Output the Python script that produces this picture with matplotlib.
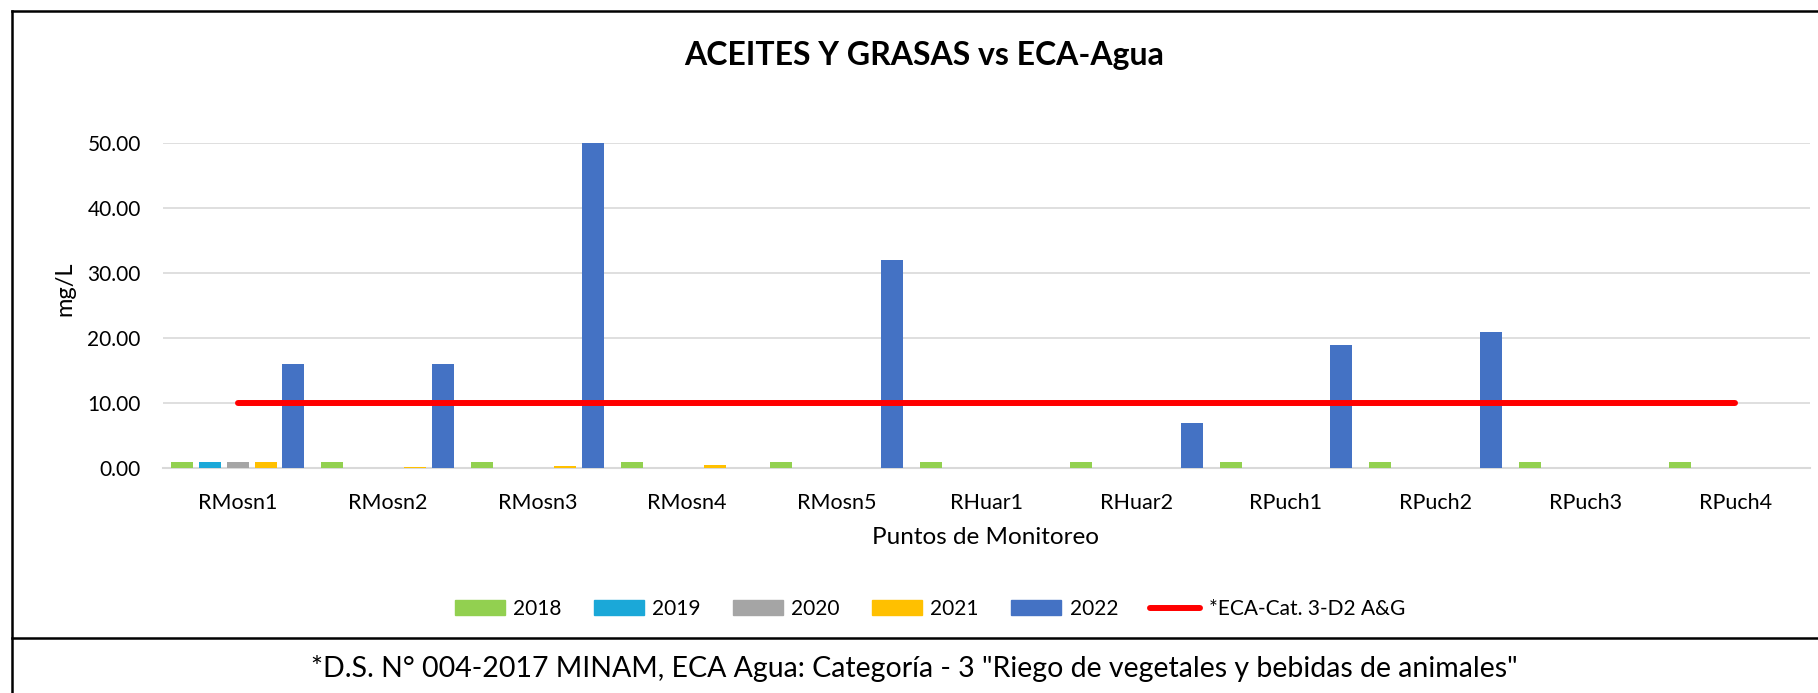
import matplotlib
matplotlib.use("Agg")
import matplotlib.pyplot as plt
from matplotlib.lines import Line2D
from matplotlib.patches import Patch
import numpy as np

plt.rcParams['font.family'] = ['Lato', 'DejaVu Sans']

# data
puntos = ["RMosn1", "RMosn2", "RMosn3", "RMosn4", "RMosn5", "RHuar1",
          "RHuar2", "RPuch1", "RPuch2", "RPuch3", "RPuch4"]
anios = ["2018", "2019", "2020", "2021", "2022"]
v2018 = [1.0, 1.0, 1.0, 1.0, 1.0, 1.0, 1.0, 1.0, 1.0, 1.0, 1.0]
v2019 = [1.0, 0, 0, 0, 0, 0, 0, 0, 0, 0, 0]
v2020 = [1.0, 0, 0, 0, 0, 0, 0, 0, 0, 0, 0]
v2021 = [1.0, 0.2, 0.3, 0.4, 0, 0, 0, 0, 0, 0, 0]
v2022 = [16, 16, 50, 0, 32, 0, 7, 19, 21, 0, 0]
eca = [10] * len(puntos)

series = [v2018, v2019, v2020, v2021, v2022]
colores = ["#92d050", "#1ba8d8", "#a5a5a5", "#ffc000", "#4472c4"]

fig = plt.figure(figsize=(18.18, 6.93), dpi=100)
W, H = 1818, 693
ax = fig.add_axes([163 / W, 1 - 468 / H, (1810 - 163) / W, (468 - 143) / H])

x = np.arange(len(puntos))
slot = 0.185
bw = 0.147
for i, (vals, c) in enumerate(zip(series, colores)):
    ax.bar(x + (i - 2) * slot, vals, width=bw, color=c, zorder=3)

ax.plot(x, eca, color="#ff0000", lw=4.3, solid_capstyle="round", zorder=4)

ax.set_xlim(-0.5, len(puntos) - 0.5)
ax.set_ylim(0, 50)
ax.set_yticks(np.arange(0, 51, 10))
ax.set_yticklabels([f"{v:.2f}" for v in np.arange(0, 51, 10)], fontsize=15)
ax.set_xticks(x)
ax.set_xticklabels(puntos, fontsize=15.5)
ax.tick_params(axis="both", length=0)
ax.tick_params(axis="y", pad=16)
ax.tick_params(axis="x", pad=18)
ax.grid(axis="y", color="#d9d9d9", lw=1.2, zorder=0)
for s in ["top", "right", "left"]:
    ax.spines[s].set_visible(False)
ax.spines["bottom"].set_color("#d9d9d9")
ax.spines["bottom"].set_linewidth(1.5)

fig.text(924 / W, 1 - 56 / H, "ACEITES Y GRASAS vs ECA-Agua", fontsize=23,
         fontweight="bold", ha="center", va="center")
fig.text(65 / W, 1 - 289 / H, "mg/L", fontsize=17, rotation=90,
         ha="center", va="center")
fig.text(986 / W, 1 - 538 / H, "Puntos de Monitoreo", fontsize=17.5,
         ha="center", va="center")

handles = [Patch(color=c, label=a) for c, a in zip(colores, anios)]
handles.append(Line2D([], [], color="#ff0000", lw=4.3, solid_capstyle="round",
                      label="*ECA-Cat. 3-D2 A&G"))
fig.legend(handles=handles, loc="center", bbox_to_anchor=(930 / W, 1 - 609 / H),
           ncol=6, frameon=False, fontsize=15, handlelength=2.4,
           handleheight=0.7, columnspacing=1.55, handletextpad=0.4)

fig.text(914 / W, 1 - 669 / H,
         '*D.S. N° 004-2017 MINAM, ECA Agua: Categoría - 3 "Riego de vegetales y bebidas de animales"',
         fontsize=20.5, ha="center", va="center")

# frame lines
fig.add_artist(Line2D([12 / W, 1], [1 - 11 / H, 1 - 11 / H], color="black", lw=1.8))
fig.add_artist(Line2D([12 / W, 12 / W], [1 - 11 / H, 0], color="black", lw=1.8))
fig.add_artist(Line2D([12 / W, 1], [1 - 638 / H, 1 - 638 / H], color="black", lw=1.8))

fig.savefig("out.png", dpi=100)
